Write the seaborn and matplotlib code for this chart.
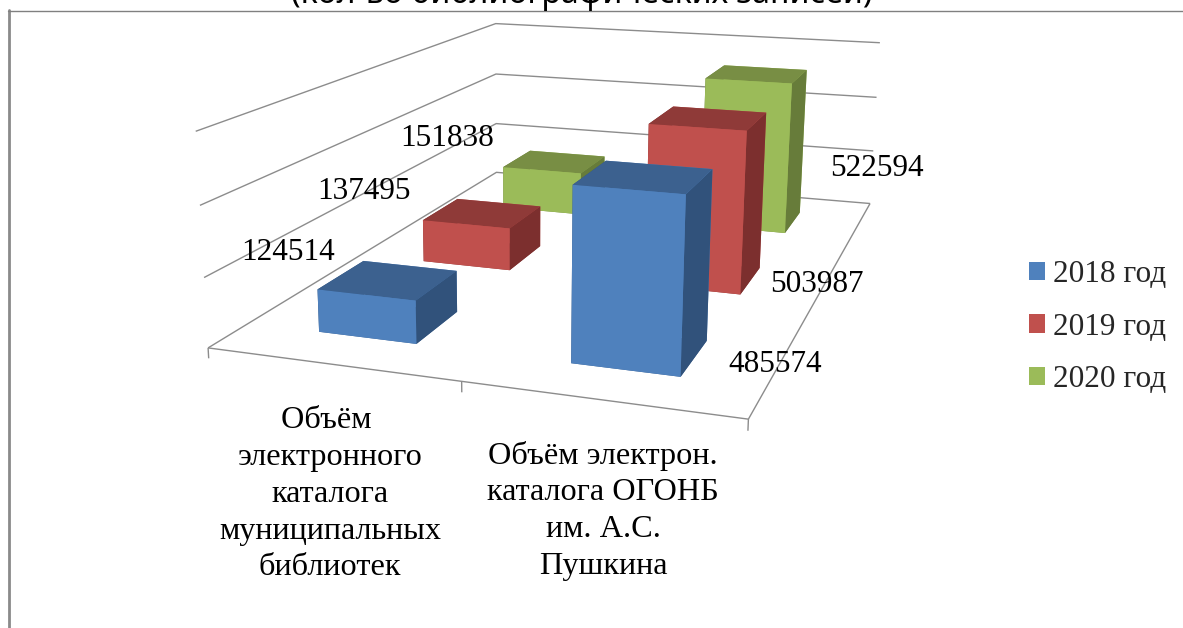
import numpy as np
import matplotlib
matplotlib.use("Agg")
import matplotlib.pyplot as plt
from matplotlib.patches import Patch
from mpl_toolkits.mplot3d.art3d import Line3DCollection
import seaborn as sns

W, H = 1183, 628

# data
categories = [
    ["Объём ", "электронного", "каталога", "муниципальных", "библиотек"],
    ["Объём электрон.", "каталога ОГОНБ", "им. А.С.", "Пушкина"],
]
years = ["2018 год", "2019 год", "2020 год"]
values_2018 = [124514, 485574]
values_2019 = [137495, 503987]
values_2020 = [151838, 522594]
z_ticks = [0, 200000, 400000, 600000]
title = "(кол-во библиографических записей)"

front_colors = ["#4F81BD", "#C0504D", "#9BBB59"]
top_colors = ["#3C618F", "#8F3A38", "#788E44"]
side_colors = ["#31527B", "#7C2F2E", "#677C3A"]

# camera calibration: where known chart positions (x, y, z) land in image pixels
calib_world = np.array([
    (0, 0, 0), (0, 0, 200000), (0, 0, 400000), (0, 0, 600000),
    (0, 3, 0), (0, 3, 200000), (0, 3, 400000), (0, 3, 600000),
    (2, 3, 0), (2, 3, 200000), (2, 3, 400000), (2, 3, 600000),
    (2, 0, 0),
    (.3, .3, 0), (.7, .3, 0), (.7, .7, 0),
    (.3, .3, 124514), (.7, .3, 124514), (.7, .7, 124514), (.3, .7, 124514),
    (1.3, .3, 0), (1.7, .3, 0), (1.7, .7, 0),
    (1.3, .3, 485574), (1.7, .3, 485574), (1.7, .7, 485574), (1.3, .7, 485574),
    (1.7, 2.3, 0), (1.7, 2.7, 0), (1.7, 2.3, 522594), (1.7, 2.7, 522594),
    (1.7, 1.3, 0), (1.7, 1.7, 0), (1.7, 1.3, 503987), (1.7, 1.7, 503987),
], dtype=float)
calib_pixel = np.array([
    (207, 347), (204, 277), (200, 206), (196, 132),
    (497, 172), (496, 124), (496, 73), (496, 24),
    (870, 204), (873, 151), (877, 97), (880, 42),
    (748, 419),
    (318, 332), (417, 343), (457, 312),
    (318, 289), (417, 301), (457, 271), (363, 262),
    (571, 363), (681, 376), (707, 342),
    (573, 184), (687, 194), (713, 169), (603, 162),
    (785, 233), (799, 214), (792, 83), (806, 70),
    (741, 294), (760, 267), (747, 131), (766, 113),
], dtype=float)


def fit_camera(world, pixel):
    zs = 1e5
    rows = []
    for (x, y, z), (u, v) in zip(world, pixel):
        p = [x, y, z / zs, 1]
        rows.append(p + [0, 0, 0, 0] + [-u * c for c in p])
        rows.append([0, 0, 0, 0] + p + [-v * c for c in p])
    P = np.linalg.svd(np.array(rows))[2][-1].reshape(3, 4)
    P[:, 2] /= zs
    if P[2, 3] < 0:
        P = -P
    # third row is only used by mplot3d for depth sorting (far = larger)
    return np.array([P[0], P[1], [0, 0, 0, -1], P[2]])


sns.set_theme(style="white")
plt.rcParams["font.family"] = ["Liberation Serif", "DejaVu Serif"]

fig = plt.figure(figsize=(W / 100, H / 100), dpi=100, facecolor="white")
# mplot3d keeps its axes square, so take a square that overflows the figure
ax = fig.add_axes([0, (1 - W / H) / 2, 1, W / H], projection="3d", computed_zorder=False)
ax.set_axis_off()
M = fit_camera(calib_world, calib_pixel)
ax.get_proj = lambda: M
ax.viewLim.intervalx = (0, W)
ax.viewLim.intervaly = (H + (W - H) / 2, -(W - H) / 2)

# walls and floor
segments = []
for z in z_ticks:
    segments.append([(0, 0, z), (0, 3, z), (2, 3, z)])
segments.append([(0, 0, 0), (2, 0, 0), (2, 3, 0)])
for x in range(3):
    segments.append([(x, 0, 0), (x, 0, -30000)])
ax.add_collection3d(Line3DCollection(segments, colors="#8C8C8C", linewidths=1, zorder=1), autolim=False)

# bars, back row first
series = [values_2018, values_2019, values_2020]
bar_size = 0.4
offset = (1 - bar_size) / 2
for j in reversed(range(3)):
    for i in range(2):
        faces = [top_colors[j], top_colors[j], front_colors[j],
                 front_colors[j], side_colors[j], side_colors[j]]
        ax.bar3d(i + offset, j + offset, 0, bar_size, bar_size, series[j][i],
                 color=faces, shade=False, edgecolor="none", linewidth=0,
                 zorder=10 * (3 - j) + i)


def txt(x, y, s, **kw):
    kw.setdefault("fontsize", 22.5)
    kw.setdefault("ha", "center")
    kw.setdefault("va", "center")
    fig.text(x / W, 1 - y / H, s, color="black", **kw)


# value labels
label_pos = [[(288, 252), (775, 364)], [(364, 192), (817, 284)], [(447, 139), (877, 169)]]
for j in range(3):
    for i in range(2):
        txt(*label_pos[j][i], str(series[j][i]), zorder=50)

# category labels
for cx, y0, lines in [(330, 421, categories[0]), (603, 456, categories[1])]:
    for k, line in enumerate(lines):
        txt(cx, y0 + k * 36.7, line, fontsize=23.2)

# title is cut by the top of the picture
txt(582, 3, title, fontsize=23.1, family=["Noto Sans", "DejaVu Sans"], va="baseline")

# frame lines of the pasted picture
fig.add_artist(plt.Line2D([8.5 / W, 8.5 / W], [0, 1 - 10 / H], color="#8A8A8A", lw=2))
fig.add_artist(plt.Line2D([8 / W, 1], [1 - 11 / H, 1 - 11 / H], color="#808080", lw=1))

handles = [Patch(facecolor=c, edgecolor="none") for c in front_colors]
fig.legend(handles, years, loc="center left", bbox_to_anchor=(1029 / W, 1 - 327 / H),
           frameon=False, fontsize=22.5, handlelength=0.52, handleheight=0.52,
           handletextpad=0.25, labelspacing=0.75, borderpad=0, borderaxespad=0)

fig.savefig("out.png", dpi=100)
